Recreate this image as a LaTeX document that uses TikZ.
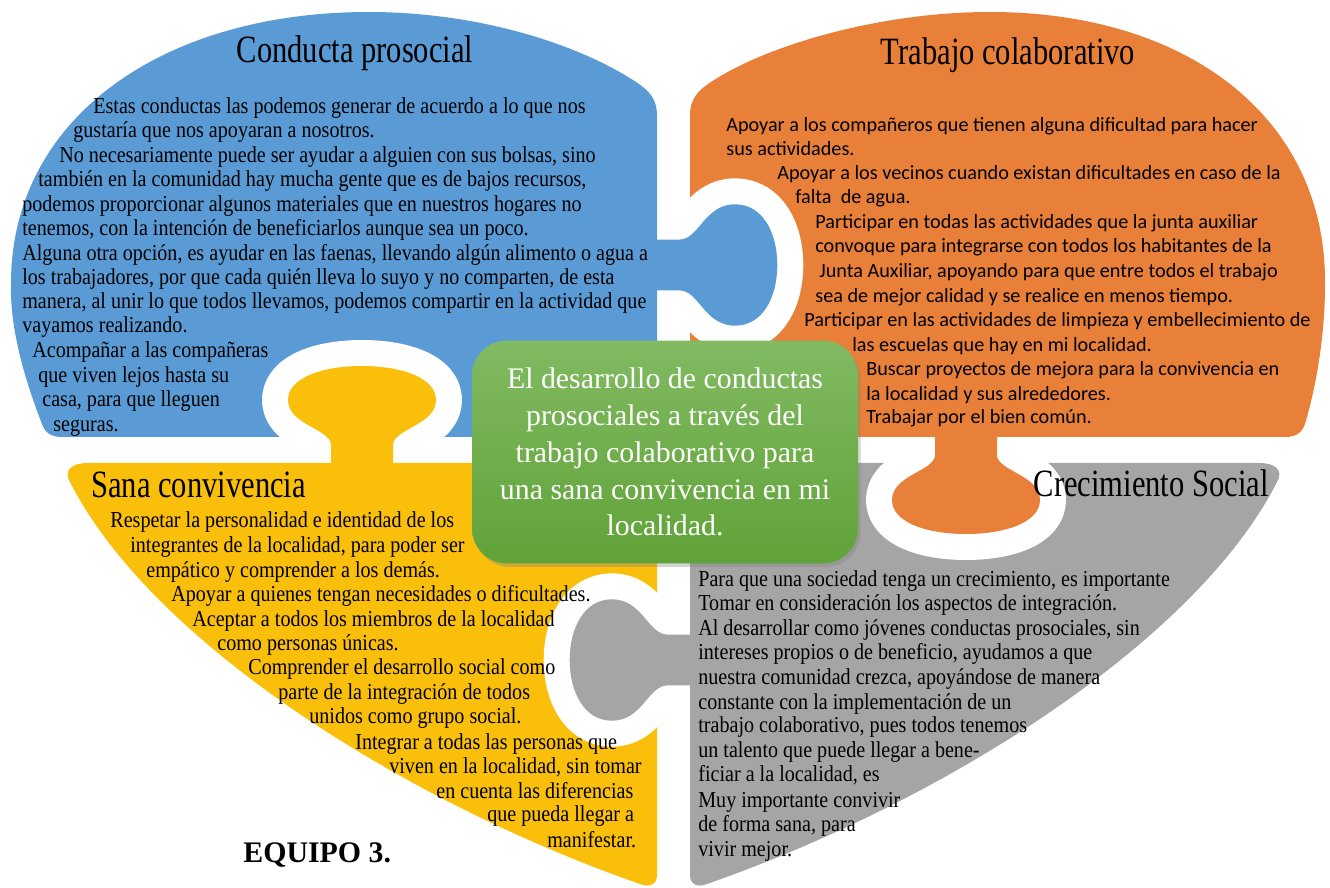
\documentclass[tikz,border=0pt]{standalone}
\usepackage{fontspec}
\setmainfont{Liberation Serif}
\newfontfamily\bodyfont[FakeStretch=0.88]{Liberation Serif}
\newfontfamily\titlefont[FakeStretch=0.79]{Liberation Serif}
\newfontfamily\calfont{Carlito}
\usepackage{tikz}
\usetikzlibrary{shadows}

\definecolor{piezaazul}{RGB}{91,155,213}
\definecolor{piezanaranja}{RGB}{233,128,57}
\definecolor{piezaamarilla}{RGB}{249,191,11}
\definecolor{piezagris}{RGB}{165,165,165}
\definecolor{verdearriba}{RGB}{129,186,98}
\definecolor{verdeabajo}{RGB}{96,163,56}

% one puzzle tab, base on the edge at (0,0), pointing up
\newcommand{\puzzletab}{(-31,6) -- (-31,-18) .. controls (-31,-34) and (-74,-38) .. (-74,-63)
	.. controls (-74,-85) and (-40,-97) .. (0,-97) .. controls (40,-97) and (74,-85) .. (74,-63)
	.. controls (74,-38) and (31,-34) .. (31,-18) -- (31,6) -- cycle}

\begin{document}
\begin{tikzpicture}[x=0.02cm,y=-0.02cm,
	ring/.style={draw=white,fill=white,line width=1.04cm,line join=round},
	bodytext/.style={anchor=base west,inner sep=0pt,font=\bodyfont\fontsize{13}{15}\selectfont},
	caltext/.style={anchor=base west,inner sep=0pt,font=\calfont\fontsize{11.5}{14}\selectfont},
	titulo/.style={inner sep=0pt,font=\titlefont\fontsize{22}{26}\selectfont},
	centro/.style={rounded corners=0.7cm,top color=verdearriba,bottom color=verdeabajo,
		minimum width=7.72cm,minimum height=4.46cm,inner sep=0pt,text=white,align=center,
		font=\fontsize{17}{21}\selectfont,
		drop shadow={opacity=0.35,shadow xshift=1.5pt,shadow yshift=-2pt}}]

	\useasboundingbox (0,0) rectangle (1330,888);

	% the four pieces
	\fill[piezaazul] (657,437) -- (62,437) .. controls (50,437) and (45,432) .. (42,424)
		.. controls (25,380) and (10,330) .. (11,285) .. controls (10,120) and (160,12) .. (369,12)
		.. controls (480,12) and (580,45) .. (636,82) .. controls (650,91) and (657,100) .. (657,115) -- cycle;
	\fill[piezanaranja] (690,437) -- (1285,437) .. controls (1297,437) and (1302,432) .. (1305,424)
		.. controls (1318,380) and (1325,330) .. (1325,285) .. controls (1327,120) and (1190,12) .. (990,12)
		.. controls (880,12) and (767,45) .. (711,82) .. controls (697,91) and (690,100) .. (690,115) -- cycle;
	\fill[piezaamarilla] (657,463) -- (88,463) .. controls (72,463) and (63,470) .. (70,482)
		.. controls (150,640) and (400,800) .. (640,884) .. controls (650,888) and (657,884) .. (657,875) -- cycle;
	\fill[piezagris] (690,463) -- (1259,463) .. controls (1275,463) and (1284,470) .. (1277,482)
		.. controls (1197,640) and (947,800) .. (707,884) .. controls (697,888) and (690,884) .. (690,875) -- cycle;

	% tabs with their white gaps
	\foreach \tx/\ty/\rot/\sw/\sd/\col/\ax/\ay/\bx/\by in {
		362/463/0/1/1/piezaamarilla/0/0/1330/450,
		657/265/-90/0.82/1.24/piezaazul/673/0/1330/888,
		966/437/180/1/1/piezanaranja/0/450/1330/888,
		690/660/90/0.82/1.24/piezagris/0/0/673/888}
	{
		\begin{scope}
			\clip (\ax,\ay) rectangle (\bx,\by);
			\filldraw[ring,shift={(\tx,\ty)},rotate=\rot,xscale=\sw,yscale=\sd] \puzzletab;
		\end{scope}
		\fill[\col,shift={(\tx,\ty)},rotate=\rot,xscale=\sw,yscale=\sd] \puzzletab;
	}

	\node[centro] (idea) at (665,452) {El desarrollo de conductas\\prosociales a través del\\trabajo colaborativo para\\una sana convivencia en mi\\localidad.};

	% titles
	\node[titulo,anchor=base] (tazul) at (355,63) {Conducta prosocial};
	\node[titulo,anchor=base] (tnaranja) at (1008,65) {Trabajo colaborativo};
	\node[titulo,anchor=base west] (tamarilla) at (91,498) {Sana convivencia};
	\node[titulo,anchor=base east] (tgris) at (1269,497) {Crecimiento Social};
	\node[anchor=base west,inner sep=0pt,font=\fontsize{17}{20}\selectfont\bfseries] (equipo) at (243,862) {EQUIPO 3.};

	% texts
	\foreach [count=\i] \xx/\yy/\tt in {
		93/114/{Estas conductas las podemos generar de acuerdo a lo que nos},
		73/138/{gustaría que nos apoyaran a nosotros.},
		59/163/{No necesariamente puede ser ayudar a alguien con sus bolsas, sino},
		38/187/{también en la comunidad hay mucha gente que es de bajos recursos,},
		22/212/{podemos proporcionar algunos materiales que en nuestros hogares no},
		22/236/{tenemos, con la intención de beneficiarlos aunque sea un poco.},
		22/261/{Alguna otra opción, es ayudar en las faenas, llevando algún alimento o agua a},
		22/285/{los trabajadores, por que cada quién lleva lo suyo y no comparten, de esta},
		22/309/{manera, al unir lo que todos llevamos, podemos compartir en la actividad que},
		22/333/{vayamos realizando.},
		32/358/{Acompañar a las compañeras},
		38/383/{que viven lejos hasta su},
		42/407/{casa, para que lleguen},
		53/432/{seguras.}}
		\node[bodytext] (azul\i) at (\xx,\yy) {\tt};

	\foreach [count=\i] \xx/\yy/\tt in {
		726/132/{Apoyar a los compañeros que tienen alguna dificultad para hacer},
		726/156/{sus actividades.},
		777/180/{Apoyar a los vecinos cuando existan dificultades en caso de la},
		795/204/{falta\ \ de agua.},
		815/229/{Participar en todas las actividades que la junta auxiliar},
		815/253/{convoque para integrarse con todos los habitantes de la},
		819/278/{Junta Auxiliar, apoyando para que entre todos el trabajo},
		815/303/{sea de mejor calidad y se realice en menos tiempo.},
		804/327/{Participar en las actividades de limpieza y embellecimiento de},
		852/352/{las escuelas que hay en mi localidad.},
		866/376/{Buscar proyectos de mejora para la convivencia en},
		866/401/{la localidad y sus alrededores.},
		866/424/{Trabajar por el bien común.}}
		\node[caltext] (naranja\i) at (\xx,\yy) {\tt};

	\foreach [count=\i] \xx/\yy/\tt in {
		110/528/{Respetar la personalidad e identidad de los},
		130/553/{integrantes de la localidad, para poder ser},
		146/578/{empático y comprender a los demás.},
		171/602/{Apoyar a quienes tengan necesidades o dificultades.},
		192/627/{Aceptar a todos los miembros de la localidad},
		217/651/{como personas únicas.},
		248/675/{Comprender el desarrollo social como},
		278/700/{parte de la integración de todos},
		309/724/{unidos como grupo social.},
		355/749/{Integrar a todas las personas que},
		389/773/{viven en la localidad, sin tomar},
		436/798/{en cuenta las diferencias},
		487/822/{que pueda llegar a},
		547/847/{manifestar.}}
		\node[bodytext] (amarilla\i) at (\xx,\yy) {\tt};

	\foreach [count=\i] \yy/\tt in {
		587/{Para que una sociedad tenga un crecimiento, es importante},
		611/{Tomar en consideración los aspectos de integración.},
		636/{Al desarrollar como jóvenes conductas prosociales, sin},
		660/{intereses propios o de beneficio, ayudamos a que},
		684/{nuestra comunidad crezca, apoyándose de manera},
		709/{constante con la implementación de un},
		733/{trabajo colaborativo, pues todos tenemos},
		758/{un talento que puede llegar a bene-},
		782/{ficiar a la localidad, es},
		807/{Muy importante convivir},
		831/{de forma sana, para},
		856/{vivir mejor.}}
		\node[bodytext] (gris\i) at (698,\yy) {\tt};
\end{tikzpicture}
\end{document}
